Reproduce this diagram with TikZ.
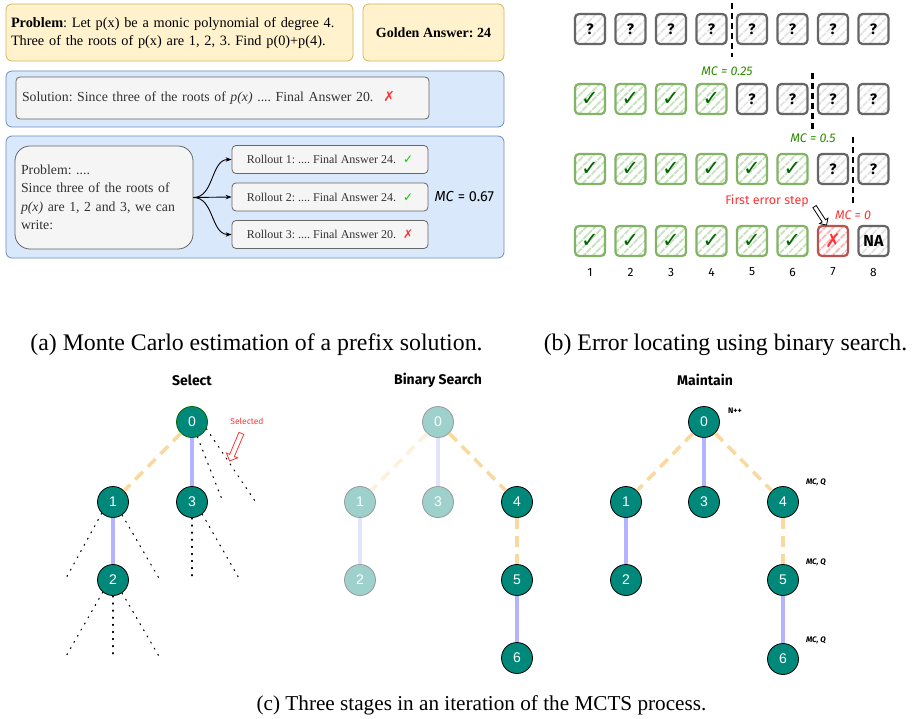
\documentclass[tikz,border=0pt]{standalone}
\usepackage{fontspec}
\setmainfont{Liberation Serif}
\newfontfamily\sk{Fira Sans}
\newfontfamily\dv{DejaVu Sans}
\newfontfamily\ar{Liberation Sans}
\usetikzlibrary{patterns.meta,shapes.arrows,arrows.meta}
\definecolor{ylwF}{HTML}{FFF2CC}
\definecolor{ylwD}{HTML}{D6B656}
\definecolor{bluF}{HTML}{DAE8FC}
\definecolor{bluD}{HTML}{6C8EBF}
\definecolor{gryF}{HTML}{F5F5F5}
\definecolor{gryD}{HTML}{666666}
\definecolor{okG}{HTML}{00CC00}
\definecolor{badR}{HTML}{FF3333}
\definecolor{skG}{HTML}{82B366}
\definecolor{skGh}{HTML}{C8E0BE}
\definecolor{chkG}{HTML}{006600}
\definecolor{mcG}{HTML}{2D8A00}
\definecolor{skR}{HTML}{B85450}
\definecolor{skRh}{HTML}{F8B4B4}
\definecolor{skKh}{HTML}{E2E2E2}
\definecolor{tealD}{HTML}{00897B}
\definecolor{tealL}{HTML}{9ED0CC}
\definecolor{oraE}{HTML}{FAD9A1}
\definecolor{oraF}{HTML}{FDF0DC}
\definecolor{lavE}{HTML}{B3B3FF}
\definecolor{lavF}{HTML}{E3E3FB}
\tikzset{
  ybox/.style={draw=ylwD, fill=ylwF, rounded corners=6pt, line width=0.8pt},
  bbox/.style={draw=bluD, fill=bluF, rounded corners=6pt, line width=0.8pt},
  gbox/.style={draw=gryD, fill=gryF, rounded corners=4pt, line width=0.8pt},
  sq/.style={minimum width=30pt, minimum height=30pt, inner sep=0pt, line width=2.2pt, rounded corners=4pt,
    pattern={Lines[angle=45,distance=6.5pt,line width=2pt]}},
  qsq/.style={sq, draw=gryD, pattern color=skKh, font=\sk\bfseries\fontsize{15}{15}\selectfont},
  csq/.style={sq, draw=skG, pattern color=skGh, text=chkG, font=\dv\bfseries\fontsize{21}{21}\selectfont},
  rsq/.style={sq, draw=skR, pattern color=skRh, text=badR, font=\dv\fontsize{19}{19}\selectfont},
  sepline/.style={line width=2.4pt, dash pattern=on 6pt off 4pt},
  mclab/.style={font=\sk\itshape\fontsize{12.5}{12.5}\selectfont, text=mcG},
  tnode/.style={circle, minimum size=31pt, inner sep=0pt, fill=tealD, draw=black, line width=0.8pt, text=white, font=\ar\fontsize{14}{14}\selectfont},
  fnode/.style={tnode, fill=tealL, draw=gray!80},
  oedge/.style={draw=oraE, line width=3.5pt, dash pattern=on 11pt off 7pt},
  fedge/.style={draw=oraF, line width=3.5pt, dash pattern=on 11pt off 7pt},
  ledge/.style={draw=lavE, line width=3.5pt},
  lfedge/.style={draw=lavF, line width=3.5pt},
  dots/.style={line width=1.1pt, dash pattern=on 1.1pt off 6pt, line cap=round},
  ttl/.style={font=\sk\bfseries\fontsize{14}{14}\selectfont},
  mcq/.style={font=\sk\bfseries\itshape\fontsize{8}{8}\selectfont},
  captxt/.style={font=\fontsize{23.8}{26}\selectfont},
  captxtc/.style={font=\fontsize{21.2}{24}\selectfont},
}
\begin{document}
\frenchspacing
\begin{tikzpicture}[x=1pt,y=-1pt]
\useasboundingbox[fill=white] (0,0) rectangle (917,719);
% ---------------- panel (a)
\node[ybox, minimum width=347pt, minimum height=57pt, text width=337pt, inner xsep=5pt, align=left,
  font=\fontsize{14.3}{18}\selectfont] (prob) at (179.5,32.5)
  {\textbf{Problem}: Let p(x) be a monic polynomial of degree 4.\\Three of the roots of p(x) are 1, 2, 3. Find p(0)+p(4).};
\node[ybox, minimum width=141pt, minimum height=57pt, font=\bfseries\fontsize{14}{16}\selectfont] (gold) at (433.5,32.5) {Golden Answer: 24};
\node[bbox, minimum width=498pt, minimum height=56pt] (blue1) at (255,99) {};
\node[gbox, minimum width=413pt, minimum height=42pt, text width=401pt, inner xsep=6pt, align=left,
  font=\fontsize{13.8}{16}\selectfont, text=black!80] (sol) at (222.5,98)
  {Solution: Since three of the roots of \textit{p(x)} .... Final Answer 20.\hspace{10pt}{\dv\color{badR}\bfseries ✗}};
\node[bbox, minimum width=498pt, minimum height=122pt] (blue2) at (255,197) {};
\node[gbox, rounded corners=15pt, minimum width=178pt, minimum height=103pt, text width=166pt, inner xsep=6pt, align=left,
  font=\fontsize{13.8}{18.5}\selectfont, text=black!80] (inprob) at (104,197.5)
  {Problem: ....\\Since three of the roots of\\\textit{p(x)} are 1, 2 and 3, we can\\write:};
\node[gbox, minimum width=196pt, minimum height=28pt, font=\fontsize{12}{14}\selectfont, text=black!80] (ro1) at (330,159.5)
  {Rollout 1: .... Final Answer 24.\hspace{7pt}{\dv\color{okG}✓}};
\node[gbox, minimum width=196pt, minimum height=28pt, font=\fontsize{12}{14}\selectfont, text=black!80] (ro2) at (330,197)
  {Rollout 2: .... Final Answer 24.\hspace{7pt}{\dv\color{okG}✓}};
\node[gbox, minimum width=196pt, minimum height=28pt, font=\fontsize{12}{14}\selectfont, text=black!80] (ro3) at (330,234.5)
  {Rollout 3: .... Final Answer 20.\hspace{7pt}{\dv\color{badR}\bfseries ✗}};
\draw[-{Stealth[length=6pt]}, line width=0.9pt] (inprob.east) to[out=0,in=180] (ro1.west);
\draw[-{Stealth[length=6pt]}, line width=0.9pt] (inprob.east) -- (ro2.west);
\draw[-{Stealth[length=6pt]}, line width=0.9pt] (inprob.east) to[out=0,in=180] (ro3.west);
\node[font=\sk\fontsize{14.5}{14.5}\selectfont, anchor=west] (mc67) at (431,197) {\textit{MC} = 0.67};
% ---------------- panel (b)
\foreach \i in {1,...,8} {
  \node[qsq] (r1c\i) at ({590+40.5*(\i-1)},29) {?};
}
\foreach \i in {1,...,4} { \node[csq] (r2c\i) at ({590+40.5*(\i-1)},99) {✓}; }
\foreach \i in {5,...,8} { \node[qsq] (r2c\i) at ({590+40.5*(\i-1)},99) {?}; }
\foreach \i in {1,...,6} { \node[csq] (r3c\i) at ({590+40.5*(\i-1)},169) {✓}; }
\foreach \i in {7,8} { \node[qsq] (r3c\i) at ({590+40.5*(\i-1)},169) {?}; }
\foreach \i in {1,...,6} { \node[csq] (r4c\i) at ({590+40.5*(\i-1)},241) {✓}; }
\node[rsq] (r4c7) at (833,241) {✗};
\node[qsq, font=\sk\bfseries\fontsize{16}{16}\selectfont] (r4c8) at (873.5,241) {NA};
\foreach \i in {1,...,8} {
  \node[font=\sk\fontsize{12}{12}\selectfont] (n\i) at ({590+40.5*(\i-1)},272) {\i};
}
\draw[sepline] (732,3) -- (732,57);
\draw[sepline] (812.5,73) -- (812.5,130);
\draw[sepline] (853,137) -- (853,205);
\node[mclab] (mc1) at (727,71) {MC = 0.25};
\node[mclab] (mc2) at (813,138) {MC = 0.5};
\node[mclab, text=badR] (mc3) at (853,215) {MC = 0};
\node[font=\sk\fontsize{12.5}{12.5}\selectfont, text=badR] (fes) at (767,201) {First error step};
\node[single arrow, draw=black, fill=white, line width=0.8pt, minimum height=22pt, inner xsep=0pt, inner ysep=1.6pt,
  single arrow head extend=3pt] (earr) at (820,215) [rotate=-57] {};
% ---------------- panel (a)/(b) captions
\node[captxt] (capa) at (256.5,345) {(a) Monte Carlo estimation of a prefix solution.};
\node[captxt] (capb) at (725.5,345) {(b) Error locating using binary search.};
% ---------------- panel (c): Select
\node[ttl] (tsel) at (192,380) {Select};
\node[tnode, draw=green!40!black] (s0) at (192,422) {0};
\node[tnode] (s1) at (113,502) {1};
\node[tnode] (s3) at (192,502) {3};
\node[tnode] (s2) at (113,580) {2};
\draw[oedge] (s0) -- (s1);
\draw[ledge] (s0) -- (s3);
\draw[ledge] (s1) -- (s2);
\coordinate (d0a) at (223,502); \coordinate (d0b) at (255,501);
\coordinate (d1a) at (65,580); \coordinate (d1b) at (160,580);
\coordinate (d3a) at (192,580); \coordinate (d3b) at (240,580);
\coordinate (d2a) at (65,658); \coordinate (d2b) at (113,658); \coordinate (d2c) at (160,658);
\draw[dots] (s0.-70) -- (d0a);
\draw[dots] (s0.-25) -- (d0b);
\draw[dots] (s1.-135) -- (d1a);
\draw[dots] (s1.-55) -- (d1b);
\draw[dots] (s3.south) -- (d3a);
\draw[dots] (s3.-50) -- (d3b);
\draw[dots] (s2.-130) -- (d2a);
\draw[dots] (s2.south) -- (d2b);
\draw[dots] (s2.-55) -- (d2c);
\node[font=\sk\fontsize{8.5}{8.5}\selectfont, text=badR] (selt) at (247,421) {Selected};
\node[single arrow, draw=badR, fill=white, line width=0.8pt, minimum height=30pt, inner xsep=0pt, inner ysep=2.2pt,
  single arrow head extend=3.5pt] (sarr) at (236,446) [rotate=247] {};
% ---------------- Binary search
\node[ttl] (tbin) at (438,380) {Binary Search};
\node[fnode] (b0) at (438,422) {0};
\node[fnode] (b1) at (360,502) {1};
\node[fnode] (b3) at (438,502) {3};
\node[tnode] (b4) at (517,502) {4};
\node[fnode] (b2) at (360,580) {2};
\node[tnode] (b5) at (517,580) {5};
\node[tnode] (b6) at (517,658) {6};
\draw[fedge] (b0) -- (b1);
\draw[lfedge] (b0) -- (b3);
\draw[lfedge] (b1) -- (b2);
\draw[oedge] (b0) -- (b4);
\draw[oedge] (b4) -- (b5);
\draw[ledge] (b5) -- (b6);
% ---------------- Maintain
\node[ttl] (tmai) at (705,380) {Maintain};
\node[tnode] (m0) at (704,422) {0};
\node[tnode] (m1) at (626,502) {1};
\node[tnode] (m3) at (704,502) {3};
\node[tnode] (m4) at (783,502) {4};
\node[tnode] (m2) at (626,580) {2};
\node[tnode] (m5) at (783,580) {5};
\node[tnode] (m6) at (783,659) {6};
\draw[oedge] (m0) -- (m1);
\draw[ledge] (m0) -- (m3);
\draw[oedge] (m0) -- (m4);
\draw[ledge] (m1) -- (m2);
\draw[oedge] (m4) -- (m5);
\draw[ledge] (m5) -- (m6);
\node[font=\sk\bfseries\fontsize{8}{8}\selectfont] (npp) at (735,411) {N++};
\node[mcq] (q4) at (816,482) {MC, Q};
\node[mcq] (q5) at (816,562) {MC, Q};
\node[mcq] (q6) at (816,640) {MC, Q};
\node[captxtc] (capc) at (481.5,705) {(c) Three stages in an iteration of the MCTS process.};
\end{tikzpicture}
\end{document}
